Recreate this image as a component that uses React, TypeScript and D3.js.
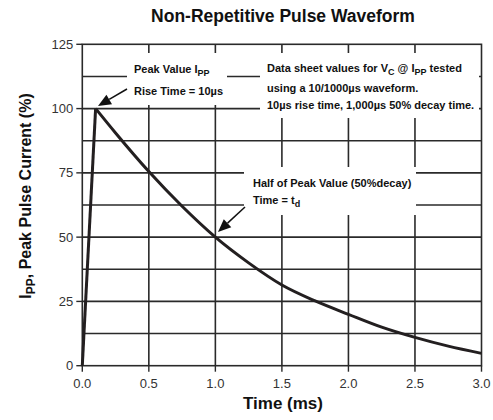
import React from "react";
import * as d3 from "d3";

const riseData: [number, number][] = [[0, 0], [0.1, 100]];
const decayData: [number, number][] = [
  [0.1, 100], [0.25, 90.5], [0.5, 75.5], [0.75, 62], [1.0, 50], [1.25, 40], [1.5, 31.4],
  [1.75, 25.2], [2.0, 20], [2.25, 15], [2.5, 11], [2.75, 7.6], [3.0, 4.8],
];
const xTicks = [0, 0.5, 1.0, 1.5, 2.0, 2.5, 3.0];
const yTicks = [0, 25, 50, 75, 100, 125];
const yGrid = [12.5, 25, 37.5, 50, 62.5, 75, 87.5, 100, 112.5];

const W = 493, H = 420;
const L = 82.3, R = 481.5, T = 44.3, B = 365.7;
const FONT = "'Liberation Sans', Arial, sans-serif";

export default function App() {
  const x = d3.scaleLinear().domain([0, 3]).range([L, R]);
  const y = d3.scaleLinear().domain([0, 125]).range([B, T]);
  const line = d3.line<[number, number]>().x(d => x(d[0])).y(d => y(d[1]));
  const curve = d3.line<[number, number]>().x(d => x(d[0])).y(d => y(d[1])).curve(d3.curveMonotoneX);
  const grid = "#2a2a2a";

  const boxes = [
    { x: 127, y: 53, w: 100, h: 52 },
    { x: 260, y: 53, w: 219, h: 65 },
    { x: 244, y: 167, w: 172, h: 48 },
  ];

  const arrow = (x1: number, y1: number, x2: number, y2: number) => {
    const a = Math.atan2(y2 - y1, x2 - x1);
    const len = 13, wid = 5.5;
    const bx = x2 - len * Math.cos(a), by = y2 - len * Math.sin(a);
    const px = -Math.sin(a) * wid, py = Math.cos(a) * wid;
    return (
      <g>
        <line x1={x1} y1={y1} x2={bx} y2={by} stroke="#111" strokeWidth={1.5} />
        <polygon points={`${x2},${y2} ${bx + px},${by + py} ${bx - px},${by - py}`} fill="#111" />
      </g>
    );
  };

  const tb = { fontFamily: FONT, fontWeight: 700, fontSize: 11, fill: "#111" } as const;

  return (
    <svg width={W} height={H} style={{ position: "absolute", left: 0, top: 0, background: "#fff" }}>
      <text x={283} y={22} textAnchor="middle" fontFamily={FONT} fontWeight={700} fontSize={17.5} fill="#111">
        Non-Repetitive Pulse Waveform
      </text>
      {/* grid */}
      {xTicks.slice(1, -1).map(t => (
        <line key={"vx" + t} x1={x(t)} x2={x(t)} y1={T} y2={B} stroke={grid} strokeWidth={1.6} />
      ))}
      {yGrid.map(t => (
        <line key={"hy" + t} x1={L} x2={R} y1={y(t)} y2={y(t)} stroke={grid} strokeWidth={1.6} />
      ))}
      {/* white text boxes */}
      {boxes.map((b, i) => (
        <rect key={i} x={b.x} y={b.y} width={b.w} height={b.h} fill="#fff" />
      ))}
      {/* frame */}
      <rect x={L} y={T} width={R - L} height={B - T} fill="none" stroke={grid} strokeWidth={1.6} />
      {/* axes ticks */}
      {yTicks.map(t => (
        <g key={"yt" + t}>
          <line x1={L - 6} x2={L} y1={y(t)} y2={y(t)} stroke={grid} strokeWidth={1.4} />
          <text x={L - 9} y={y(t) + 4.5} textAnchor="end" fontFamily={FONT} fontSize={13} fill="#333">{t}</text>
        </g>
      ))}
      {xTicks.map(t => (
        <g key={"xt" + t}>
          <line x1={x(t)} x2={x(t)} y1={B} y2={B + 6} stroke={grid} strokeWidth={1.4} />
          <text x={x(t)} y={B + 22} textAnchor="middle" fontFamily={FONT} fontSize={13} fill="#333">{t.toFixed(1)}</text>
        </g>
      ))}
      {/* curve */}
      <path d={line(riseData) ?? ""} fill="none" stroke="#231f20" strokeWidth={3} strokeLinejoin="miter" />
      <path d={curve(decayData) ?? ""} fill="none" stroke="#231f20" strokeWidth={3} />
      {/* annotations */}
      <text {...tb} x={134} y={73}>Peak Value I<tspan fontSize={9} dy={3}>PP</tspan></text>
      <text {...tb} x={134} y={95}>Rise Time = 10µs</text>
      <text {...tb} x={267} y={72}>Data sheet values for V<tspan fontSize={9} dy={3}>C</tspan><tspan dy={-3}> @ I</tspan><tspan fontSize={9} dy={3}>PP</tspan><tspan dy={-3}> tested</tspan></text>
      <text {...tb} x={267} y={92}>using a 10/1000µs waveform.</text>
      <text {...tb} x={267} y={109}>10µs rise time, 1,000µs 50% decay time.</text>
      <text {...tb} x={253} y={187}>Half of Peak Value (50%decay)</text>
      <text {...tb} x={253} y={204}>Time = t<tspan fontSize={9} dy={3}>d</tspan></text>
      {arrow(127, 89, 98, 106)}
      {arrow(245, 207, 218, 232)}
      {/* axis titles */}
      <text x={283} y={409} textAnchor="middle" fontFamily={FONT} fontWeight={700} fontSize={17} fill="#111">Time (ms)</text>
      <text transform={`translate(31,196) rotate(-90)`} textAnchor="middle" fontFamily={FONT} fontWeight={700} fontSize={16} fill="#111">
        I<tspan fontSize={12} dy={4}>PP</tspan><tspan dy={-4}>, Peak Pulse Current (%)</tspan>
      </text>
    </svg>
  );
}
